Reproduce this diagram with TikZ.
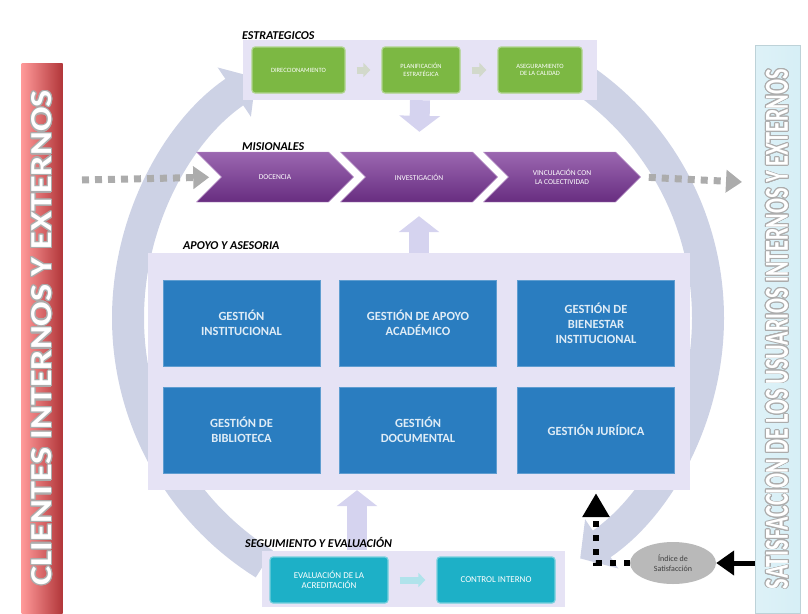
\documentclass[tikz,border=0pt]{standalone}
\usepackage{fontspec}
\setmainfont{Carlito}
\usepackage{graphicx}
\usepackage{contour}
\usetikzlibrary{arrows.meta,shapes.symbols,shapes.geometric}

\definecolor{ringgray}{HTML}{CDD2E5}
\definecolor{panel}{HTML}{E6E3F5}
\definecolor{lavarrow}{HTML}{D5D3EF}
\definecolor{estgreen}{HTML}{7CB843}
\definecolor{mispurple}{HTML}{7A3597}
\definecolor{apoblue}{HTML}{2A7DC0}
\definecolor{segcyan}{HTML}{1DB0C7}
\definecolor{cliered}{HTML}{DE4448}
\definecolor{satblue}{HTML}{B5E1EE}
\contourlength{1pt}
\newcommand{\barratexto}[3]{\resizebox{#1}{#2}{\contour{gray!65}{\fontsize{30}{30}\selectfont\bfseries #3}}}

\begin{document}
\begin{tikzpicture}[x=1pt,y=-1pt,
    panelbox/.style={fill=panel, draw=none, inner sep=0pt},
    grupo/.style={font=\bfseries\itshape\fontsize{12}{13}\selectfont, anchor=south west, inner sep=0pt},
    estbox/.style={fill=estgreen, draw=estgreen!60!white, line width=1.2pt, rounded corners=3pt,
        text=white, font=\fontsize{6.5}{7.5}\selectfont, align=center, minimum height=46pt, inner sep=2pt},
    misbox/.style={signal, signal from=west, signal to=east, signal pointer angle=90,
        top color=mispurple!75!white, bottom color=mispurple!85!black, draw=mispurple!55!white,
        text=white, font=\fontsize{7.5}{8.5}\selectfont, align=center,
        minimum height=50pt, minimum width=157pt, inner sep=2pt},
    apobox/.style={fill=apoblue, draw=apoblue!75!white, text=white!85!apoblue,
        font=\bfseries\fontsize{12.5}{15}\selectfont, align=center,
        minimum width=157pt, minimum height=86pt, inner sep=2pt},
    segbox/.style={fill=segcyan, draw=segcyan!60!white, line width=1.2pt, rounded corners=3pt,
        text=white, font=\fontsize{9}{10.5}\selectfont, align=center,
        minimum width=118pt, minimum height=46pt, inner sep=2pt},
    ciclo/.style={ringgray, line width=32pt, -{Triangle[width=58pt,length=26pt]}},
    bloque/.style={lavarrow, line width=20pt, -{Triangle[width=40pt,length=16pt]}},
    mini/.style={line width=7pt, shorten <=11pt, shorten >=11pt, -{Triangle[width=14pt,length=7pt]}},
    flujo/.style={gray!65, line width=7pt, dash pattern=on 7pt off 6pt, -{Triangle[width=22pt,length=16pt]}},
    negro/.style={black, line width=6pt, dash pattern=on 6pt off 8pt, -{Triangle[width=26pt,length=24pt]}},
    clibar/.style={rotate=90, minimum width=550pt, minimum height=41pt, inner sep=0pt, text=white,
        left color=red!40!white, middle color=cliered, right color=cliered!80!black},
    satbar/.style={rotate=90, minimum width=568pt, minimum height=45pt, inner sep=0pt, text=white,
        left color=satblue!45!white, middle color=satblue, right color=satblue!55!white, draw=satblue!80!black!60}]
\useasboundingbox (0,0) rectangle (808,613);

% ciclo
\draw[ciclo] (418,318) ++(122:290) arc (122:236:290);
\draw[ciclo] (418,318) ++(-58:290) arc (-58:56:290);

% clientes / usuarios
\node[clibar] (clie) at (42,338) {\barratexto{495pt}{20pt}{CLIENTES INTERNOS Y EXTERNOS}};
\node[satbar] (usu) at (777.5,329) {\barratexto{520pt}{22pt}{SATISFACCION DE LOS USUARIOS INTERNOS Y EXTERNOS}};

% estrategicos
\node[panelbox, minimum width=354pt, minimum height=60pt] (estp) at (420,70) {};
\node[grupo] (lblest) at (242,40) {ESTRATEGICOS};
\node[estbox, minimum width=93pt] (dir) at (298.5,70) {DIRECCIONAMIENTO};
\node[estbox, minimum width=78pt] (plan) at (421,70) {PLANIFICACIÓN\\ESTRATÉGICA};
\node[estbox, minimum width=84pt] (ase) at (540,70) {ASEGURAMIENTO\\DE LA CALIDAD};
\draw[mini, estgreen!35!gray!35] (dir) -- (plan);
\draw[mini, estgreen!35!gray!35] (plan) -- (ase);

% misionales
\node[grupo] (lblmis) at (242,151) {MISIONALES};
\node[misbox] (doc) at (275,177) {DOCENCIA};
\node[misbox] (inv) at (419,177) {INVESTIGACIÓN};
\node[misbox] (vin) at (562,177) {VINCULACIÓN CON\\LA COLECTIVIDAD};
\coordinate (entrada) at (82,180);
\coordinate (salida) at (742,182);
\draw[flujo, shorten >=12pt] (entrada) -- (doc.west);
\draw[flujo, shorten <=8pt] (vin.east) -- (salida);

% apoyo y asesoria
\node[panelbox, minimum width=542pt, minimum height=237pt] (apop) at (419,371.5) {};
\node[grupo] (lblapo) at (183,250) {APOYO Y ASESORIA};
\node[apobox] (ginst) at (241.5,323) {GESTIÓN\\INSTITUCIONAL};
\node[apobox] (gaca) at (418,323) {GESTIÓN DE APOYO\\ACADÉMICO};
\node[apobox] (gbien) at (596,323) {GESTIÓN DE\\BIENESTAR\\INSTITUCIONAL};
\node[apobox] (gbib) at (241.5,430) {GESTIÓN DE\\BIBLIOTECA};
\node[apobox] (gdoc) at (418,430) {GESTIÓN\\DOCUMENTAL};
\node[apobox] (jur) at (596,430) {GESTIÓN JURÍDICA};

% seguimiento y evaluacion
\node[panelbox, minimum width=303pt, minimum height=56pt] (segp) at (413.5,579) {};
\coordinate (segup) at (357,550);
\draw[bloque] (segup) -- (segup |- apop.south);
\node[grupo] (lblseg) at (245,548) {SEGUIMIENTO Y EVALUACIÓN};
\node[segbox] (eva) at (329,580) {EVALUACIÓN DE LA\\ACREDITACIÓN};
\node[segbox] (con) at (496,580) {CONTROL INTERNO};
\draw[mini, segcyan!35!white] (eva) -- (con);

% flechas entre grupos
\draw[bloque, shorten >=20pt] (estp.south) -- (inv.north);
\draw[bloque, shorten >=14pt] (apop.north -| inv.south) -- (inv.south);

% indice de satisfaccion
\node[ellipse, fill=gray!55, minimum width=86pt, minimum height=42pt, inner sep=1pt,
    font=\fontsize{8}{9.5}\selectfont, text=black!75, align=center] (idx) at (673,563) {Índice de\\Satisfacción};
\draw[black, line width=5pt, -{Triangle[width=24pt,length=18pt]}] (usu.north |- idx) -- (idx.east);
\draw[negro, shorten >=20pt] (idx.west) -| (jur.south);
\end{tikzpicture}
\end{document}
